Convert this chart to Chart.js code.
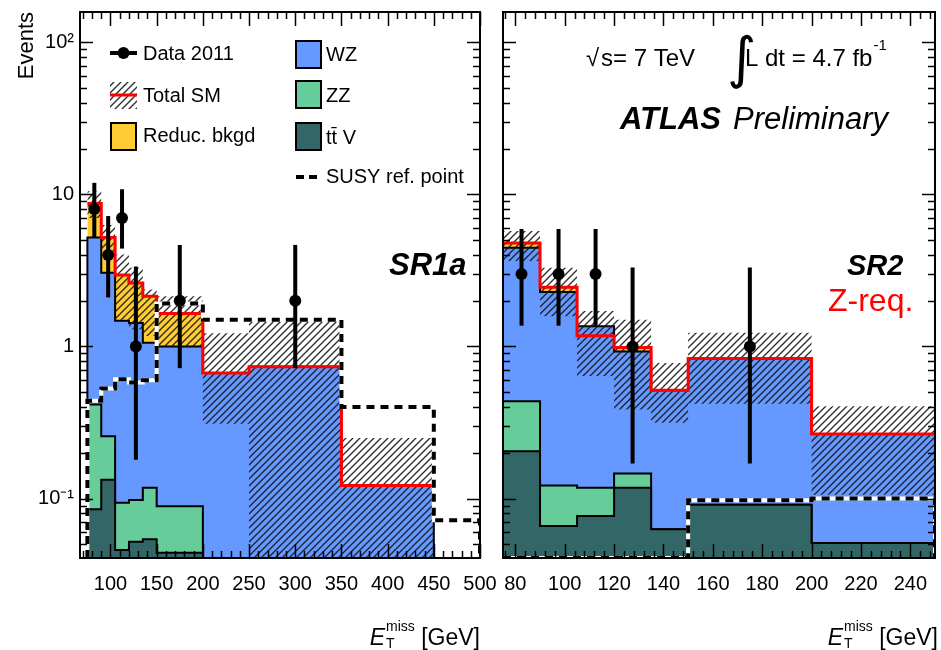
<!DOCTYPE html>
<html>
<head>
<meta charset="utf-8" />
<script src="https://cdn.jsdelivr.net/npm/chart.js"></script>
<style>
  body { margin: 0; background: white; }
  #wrap { position: relative; width: 941px; height: 650px; overflow: hidden; background: white; }
  canvas { position: absolute; top: 0; }
  #left { left: 0; }
  #right { left: 490px; }
</style>
</head>
<body>
<div id="wrap">
  <canvas id="left" width="500" height="650"></canvas>
  <canvas id="right" width="451" height="650"></canvas>
</div>
<script>
// ---- SR1a (left panel) ----
const sr1aEdges   = [75, 90, 105, 120, 135, 150, 200, 250, 350, 450];
const sr1aTtV     = [0.085, 0.133, 0.046, 0.052, 0.054, 0.044, 0, 0, 0];
const sr1aZZ      = [0.33, 0.124, 0.048, 0.046, 0.064, 0.045, 0, 0, 0];
const sr1aWZ      = [4.79, 2.79, 1.38, 1.33, 0.94, 0.91, 0.67, 0.735, 0.122];
const sr1aReduc   = [3.5, 2.15, 1.48, 1.19, 1.08, 0.65, 0, 0, 0];
const sr1aBandUp  = [10.5, 6.3, 4.03, 3.29, 2.37, 2.14, 1.22, 1.46, 0.25];
const sr1aBandLow = [7.0, 4.2, 1.5, 1.3, 1.17, 1.0, 0.31, 0, 0];
const sr1aSusyEdges = [75, 90, 105, 120, 135, 150, 200, 250, 350, 450, 500];
const sr1aSusy    = [0.44, 0.53, 0.61, 0.58, 0.60, 1.92, 1.5, 1.5, 0.40, 0.072];
const sr1aDataX   = [82.5, 97.5, 112.5, 127.5, 175, 300];
const sr1aData    = [8, 4, 7, 1, 2, 2];
const sr1aDataLo  = [5.2, 2.1, 4.4, 0.18, 0.72, 0.72];
const sr1aDataHi  = [11.9, 7.2, 10.8, 3.35, 4.65, 4.65];

// ---- SR2 (right panel) ----
const sr2Edges   = [75, 90, 105, 120, 135, 150, 200, 250];
const sr2TtV     = [0.205, 0.066, 0.077, 0.118, 0.063, 0.091, 0.051];
const sr2ZZ      = [0.232, 0.056, 0.041, 0.028, 0, 0, 0];
const sr2WZ      = [4.02, 2.16, 1.24, 0.78, 0.453, 0.743, 0.215];
const sr2Reduc   = [0.34, 0.17, -0.18, 0.06, 0, 0, 0];
const sr2BandUp  = [5.74, 3.29, 1.71, 1.5, 0.78, 1.23, 0.405];
const sr2BandLow = [3.64, 1.58, 0.64, 0.385, 0.315, 0.42, 0.106];
const sr2Susy    = [0, 0, 0, 0, 0, 0.0975, 0.1];
const sr2DataX   = [82.5, 97.5, 112.5, 127.5, 175];
const sr2Data    = [3, 3, 3, 1, 1];
const sr2DataLo  = [1.37, 1.37, 1.37, 0.17, 0.17];
const sr2DataHi  = [5.92, 5.92, 5.92, 3.3, 3.3];

const yTickLabels = {'0.1': '10\u207B\u00B9', '1': '1', '10': '10', '100': '10\u00B2'};

const Y_MIN = 0.0407, Y_MAX = 158;
const FAM = '"Liberation Sans", Arial, Helvetica, sans-serif';
const ORANGE = '#FFCC33', BLUE = '#6699FF', GREEN = '#66CC99', TEAL = '#336666';

Chart.defaults.font.family = FAM;
Chart.defaults.color = '#000';

function hatch() {
  const c = document.createElement('canvas');
  c.width = 7; c.height = 7;
  const g = c.getContext('2d');
  g.strokeStyle = 'rgba(20,20,20,0.9)';
  g.lineWidth = 1.3;
  g.beginPath();
  g.moveTo(0, 7); g.lineTo(7, 0);
  g.moveTo(-2, 2); g.lineTo(2, -2);
  g.moveTo(5, 9); g.lineTo(9, 5);
  g.stroke();
  return g.createPattern(c, 'repeat');
}
const HATCH = hatch();

function clampY(v) { return v > Y_MIN ? v : Y_MIN; }

function histPoints(edges, vals, closed) {
  const pts = [];
  if (closed) pts.push({x: edges[0], y: Y_MIN});
  vals.forEach((v, i) => pts.push({x: edges[i], y: clampY(v)}));
  pts.push({x: edges[edges.length - 1], y: clampY(vals[vals.length - 1])});
  if (closed) pts.push({x: edges[edges.length - 1], y: Y_MIN});
  return pts;
}

function cumulate(...parts) {
  return parts[0].map((_, i) => parts.reduce((s, p) => s + p[i], 0));
}

function buildDatasets(edges, ttv, zz, wz, reduc, up, low, susyEdges, susy, dx, dn) {
  const c1 = ttv;
  const c2 = cumulate(ttv, zz);
  const c3 = cumulate(ttv, zz, wz);
  const total = cumulate(ttv, zz, wz, reduc);
  const base = {stepped: true, pointRadius: 0, borderColor: '#000', borderWidth: 2, fill: 'start'};
  return [
    {...base, data: histPoints(edges, total, true), backgroundColor: ORANGE, borderColor: 'rgba(0,0,0,0)', borderWidth: 0, order: 10},
    {...base, data: histPoints(edges, c3, true), backgroundColor: BLUE, order: 9},
    {...base, data: histPoints(edges, c2, true), backgroundColor: GREEN, order: 8},
    {...base, data: histPoints(edges, c1, true), backgroundColor: TEAL, order: 7},
    // uncertainty band, filled to the next dataset
    {...base, data: histPoints(edges, up, false), backgroundColor: HATCH, borderColor: 'rgba(0,0,0,0)', borderWidth: 0, fill: '+1', order: 6},
    {...base, data: histPoints(edges, low, false), borderColor: 'rgba(0,0,0,0)', borderWidth: 0, fill: false, order: 6},
    {...base, data: histPoints(edges, total, false), borderColor: '#FF0000', borderWidth: 3, fill: false, order: 5},
    {...base, data: histPoints(susyEdges, susy, true), borderColor: '#FFFFFF', borderWidth: 4, fill: false, order: 4},
    {...base, data: histPoints(susyEdges, susy, true), borderColor: '#000', borderWidth: 4, borderDash: [8, 6], fill: false, order: 3},
    {data: dx.map((x, i) => ({x: x, y: dn[i]})), showLine: false, pointRadius: 6, pointBackgroundColor: '#000',
     pointBorderWidth: 0, borderColor: '#000', order: 0}
  ];
}

function errBars(xs, lo, hi) {
  return {
    id: 'errbars',
    afterDatasetsDraw(chart) {
      const {ctx, scales: {x, y}} = chart;
      ctx.save();
      ctx.strokeStyle = '#000';
      ctx.lineWidth = 4;
      xs.forEach((v, i) => {
        const px = x.getPixelForValue(v);
        ctx.beginPath();
        ctx.moveTo(px, y.getPixelForValue(lo[i]));
        ctx.lineTo(px, y.getPixelForValue(hi[i]));
        ctx.stroke();
      });
      ctx.restore();
    }
  };
}

// ROOT style frame with inward ticks on all four sides
function frame(xMajor, xMinor) {
  return {
    id: 'frame',
    afterDraw(chart) {
      const {ctx, chartArea: a, scales: {x, y}} = chart;
      ctx.save();
      ctx.strokeStyle = '#000';
      ctx.lineWidth = 1.5;
      ctx.beginPath();
      for (let v = Math.ceil(x.min / xMinor) * xMinor; v <= x.max + 1e-9; v += xMinor) {
        const px = Math.round(x.getPixelForValue(v)) + 0.5;
        const len = Math.abs(v / xMajor - Math.round(v / xMajor)) < 1e-6 ? 14 : 7;
        ctx.moveTo(px, a.bottom); ctx.lineTo(px, a.bottom - len);
        ctx.moveTo(px, a.top); ctx.lineTo(px, a.top + len);
      }
      for (let e = -2; e <= 2; e++) {
        for (let k = 1; k <= 9; k++) {
          const v = k * Math.pow(10, e);
          if (v < y.min || v > y.max) continue;
          const py = Math.round(y.getPixelForValue(v)) + 0.5;
          const len = k === 1 ? 13 : 7;
          ctx.moveTo(a.left, py); ctx.lineTo(a.left + len, py);
          ctx.moveTo(a.right, py); ctx.lineTo(a.right - len, py);
        }
      }
      ctx.stroke();
      ctx.lineWidth = 2;
      ctx.strokeRect(a.left, a.top, a.right - a.left, a.bottom - a.top);
      ctx.restore();
    }
  };
}

function drawXTitle(ctx, right, base) {
  const big = '23px ' + FAM, small = '14px ' + FAM;
  ctx.font = 'italic ' + big; const wE = ctx.measureText('E').width;
  ctx.font = small; const wM = ctx.measureText('miss').width;
  ctx.font = big; const wG = ctx.measureText(' [GeV]').width;
  let x = right - (wE + 1 + wM + wG);
  ctx.textAlign = 'left';
  ctx.textBaseline = 'alphabetic';
  ctx.fillStyle = '#000';
  ctx.font = 'italic ' + big; ctx.fillText('E', x, base); x += wE + 1;
  ctx.font = small; ctx.fillText('miss', x, base - 14); ctx.fillText('T', x, base + 3);
  x += wM;
  ctx.font = big; ctx.fillText(' [GeV]', x, base);
}

const leftText = {
  id: 'leftText',
  afterDraw(chart) {
    const ctx = chart.ctx;
    ctx.save();
    ctx.fillStyle = '#000';
    // y axis title
    ctx.save();
    ctx.translate(33, 12);
    ctx.rotate(-Math.PI / 2);
    ctx.font = '22px ' + FAM;
    ctx.textAlign = 'right';
    ctx.textBaseline = 'alphabetic';
    ctx.fillText('Events', 0, 0);
    ctx.restore();
    drawXTitle(ctx, 480, 645);

    // legend
    ctx.font = '20px ' + FAM;
    ctx.textAlign = 'left';
    ctx.textBaseline = 'middle';
    ctx.lineWidth = 4; ctx.strokeStyle = '#000';
    ctx.beginPath(); ctx.moveTo(110, 53); ctx.lineTo(137, 53); ctx.stroke();
    ctx.beginPath(); ctx.arc(123.5, 53, 6, 0, Math.PI * 2); ctx.fill();
    ctx.fillText('Data 2011', 143, 54);

    ctx.fillStyle = HATCH; ctx.fillRect(110, 82, 27, 27);
    ctx.strokeStyle = '#FF0000'; ctx.lineWidth = 3;
    ctx.beginPath(); ctx.moveTo(110, 95); ctx.lineTo(137, 95); ctx.stroke();
    ctx.fillStyle = '#000';
    ctx.fillText('Total SM', 143, 96);

    const box = (x, y, col) => {
      ctx.fillStyle = col; ctx.fillRect(x, y, 25, 27);
      ctx.strokeStyle = '#000'; ctx.lineWidth = 2; ctx.strokeRect(x, y, 25, 27);
      ctx.fillStyle = '#000';
    };
    box(111, 123, ORANGE); ctx.fillText('Reduc. bkgd', 143, 136);
    box(296, 41, BLUE); ctx.fillText('WZ', 326, 55);
    box(296, 81, GREEN); ctx.fillText('ZZ', 326, 96);
    box(296, 123, TEAL); ctx.fillText('tt\u0304 V', 326, 138);

    ctx.strokeStyle = '#000'; ctx.lineWidth = 4; ctx.setLineDash([8, 5]);
    ctx.beginPath(); ctx.moveTo(296, 177); ctx.lineTo(322, 177); ctx.stroke();
    ctx.setLineDash([]);
    ctx.fillText('SUSY ref. point', 326, 177);

    ctx.font = 'italic bold 31px ' + FAM;
    ctx.textBaseline = 'alphabetic';
    ctx.fillText('SR1a', 389, 275);
    ctx.restore();
  }
};

const rightText = {
  id: 'rightText',
  afterDraw(chart) {
    const ctx = chart.ctx;
    const o = 490;
    ctx.save();
    ctx.fillStyle = '#000';
    ctx.textAlign = 'left';
    ctx.textBaseline = 'alphabetic';
    drawXTitle(ctx, 938 - o, 645);

    ctx.font = '24px ' + FAM;
    ctx.fillText('\u221A', 586 - o, 66);
    ctx.fillText('s= 7 TeV', 601 - o, 66);
    ctx.fillText('L dt = 4.7 fb', 745 - o, 66);
    const w = ctx.measureText('L dt = 4.7 fb').width;
    ctx.font = '15px ' + FAM;
    ctx.fillText('-1', 745 - o + w + 1, 50);
    ctx.font = '56px "DejaVu Sans", ' + FAM;
    ctx.fillText('\u222B', 727 - o, 77);

    ctx.font = 'italic bold 31px ' + FAM;
    ctx.fillText('ATLAS', 620 - o, 129);
    ctx.font = 'italic 31px ' + FAM;
    ctx.fillText('Preliminary', 733 - o, 129);

    ctx.font = 'italic bold 29px ' + FAM;
    ctx.fillText('SR2', 847 - o, 275);
    ctx.fillStyle = '#FF0000';
    ctx.font = '32px ' + FAM;
    ctx.fillText('Z-req.', 828 - o, 311);
    ctx.restore();
  }
};

function decadeLabel(v) {
  const k = String(Number(v.toPrecision(6)));
  return yTickLabels[k] || '';
}

function noPad(s) {
  s.paddingLeft = 0; s.paddingRight = 0; s.paddingTop = 0; s.paddingBottom = 0;
}

function makeChart(id, datasets, xmin, xmax, step, yWidth, showY, padRight, plugins) {
  return new Chart(document.getElementById(id), {
    type: 'line',
    data: {datasets: datasets},
    options: {
      responsive: false,
      animation: false,
      devicePixelRatio: 1,
      layout: {padding: {top: 12, right: padRight, left: 0, bottom: 0}},
      plugins: {legend: {display: false}, tooltip: {enabled: false}},
      scales: {
        x: {
          type: 'linear', min: xmin, max: xmax,
          grid: {display: false, drawTicks: false},
          border: {display: false},
          ticks: {stepSize: step, includeBounds: false, autoSkip: false, maxRotation: 0,
                  font: {size: 20}, color: '#000', padding: 14},
          afterFit: s => { s.height = 92; noPad(s); }
        },
        y: {
          type: 'logarithmic', min: Y_MIN, max: Y_MAX,
          grid: {display: false, drawTicks: false},
          border: {display: false},
          ticks: {display: showY, autoSkip: false, callback: decadeLabel,
                  font: {size: 20}, color: '#000', padding: 6},
          afterFit: s => { s.width = yWidth; noPad(s); }
        }
      }
    },
    plugins: plugins
  });
}

makeChart('left',
  buildDatasets(sr1aEdges, sr1aTtV, sr1aZZ, sr1aWZ, sr1aReduc, sr1aBandUp, sr1aBandLow,
                sr1aSusyEdges, sr1aSusy, sr1aDataX, sr1aData),
  67, 500, 50, 80, true, 20,
  [errBars(sr1aDataX, sr1aDataLo, sr1aDataHi), frame(50, 10), leftText]);

makeChart('right',
  buildDatasets(sr2Edges, sr2TtV, sr2ZZ, sr2WZ, sr2Reduc, sr2BandUp, sr2BandLow,
                sr2Edges, sr2Susy, sr2DataX, sr2Data),
  75, 250, 20, 13, false, 3,
  [errBars(sr2DataX, sr2DataLo, sr2DataHi), frame(20, 4), rightText]);
</script>
</body>
</html>
